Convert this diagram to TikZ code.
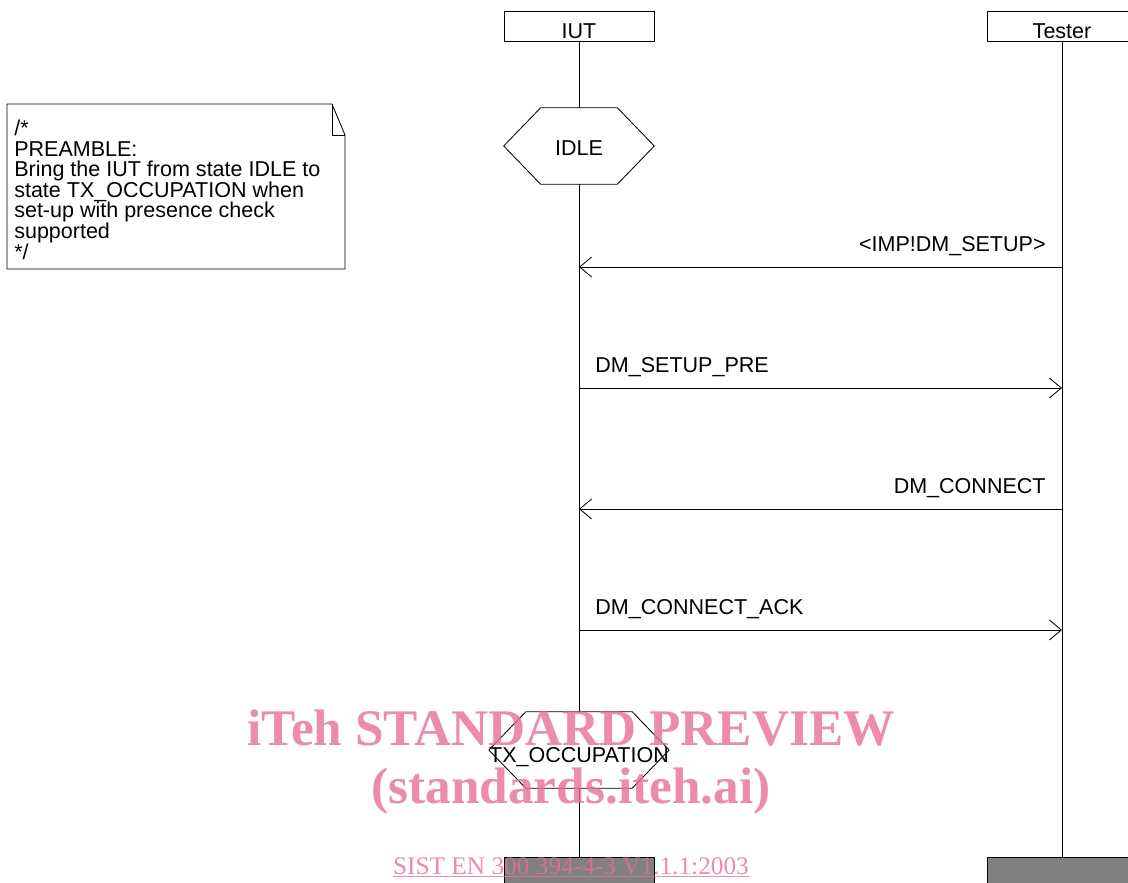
\documentclass[tikz,border=0pt]{standalone}
\usepackage{fontspec}
\setmainfont{Liberation Sans}
\newfontfamily\wmfont{Liberation Serif}
\usepackage{tikz}
\usetikzlibrary{arrows.meta,calc}

\definecolor{wmpink}{RGB}{232,110,150}
\definecolor{endgray}{RGB}{128,128,128}

\begin{document}
\begin{tikzpicture}[
    x=0.025cm, y=-0.025cm,
    every node/.append style={font=\fontsize{15.3}{14.6}\selectfont},
    instance/.style={draw, line width=0.6pt, inner sep=0pt, minimum width=3.75cm,
      text height=0.6875cm, text depth=0.0625cm, anchor=base},
    instend/.style={draw, line width=0.6pt, fill=endgray, minimum width=3.75cm,
      minimum height=1.5cm, anchor=north, inner sep=0pt},
    statebox/.style={minimum width=3.75cm, minimum height=1.9cm, inner sep=0pt,
      text height=0.48cm, text depth=0pt},
    lifeline/.style={line width=0.6pt},
    msg/.style={line width=0.6pt, -{Straight Barb[length=3mm, width=5mm, line width=0.6pt]}},
    msglabel/.style={inner sep=0pt},
    watermark/.style={text=wmpink, opacity=0.8, inner sep=0pt, anchor=base},
  ]
  \useasboundingbox (0,0) rectangle (1128,882);
  \clip (0,0) rectangle (1128,882);

  % Instances
  \node[instance] (iut) at (579,38.5) {IUT};
  \node[instance] (tester) at (1062,38.5) {Tester};
  \node[instend] (iutend) at (579,857) {};
  \node[instend] (testerend) at (1062,857) {};

  % States
  \node[statebox] (idle) at (579,146) {IDLE};
  \node[statebox, text height=0.62cm] (txocc) at (579,750) {TX\_OCCUPATION};
  \foreach \s in {idle,txocc}
    \draw[line width=0.6pt] (\s.west) -- ($(\s.north west)+(37,0)$) -- ($(\s.north east)+(-37,0)$)
      -- (\s.east) -- ($(\s.south east)+(-37,0)$) -- ($(\s.south west)+(37,0)$) -- cycle;

  % Lifelines
  \draw[lifeline] (iut.south) -- (idle.north);
  \draw[lifeline] (idle.south) -- (txocc.north);
  \draw[lifeline] (txocc.south) -- (iutend.north);
  \draw[lifeline] (tester.south) -- (testerend.north);

  % Comment
  \draw[line width=0.6pt] (7,104) -- (332,104) -- (345,135) -- (345,269) -- (7,269) -- cycle;
  \draw[line width=0.6pt] (332,104) -- (332,135) -- (345,135);
  \node[anchor=north west, align=left, inner sep=0pt] (note) at (14,120)
    {/*\\PREAMBLE:\\Bring the IUT from state IDLE to\\state TX\_OCCUPATION when\\set-up with presence check\\supported\\*/};

  % Messages
  \coordinate (i1) at (579,267); \coordinate (t1) at (1062,267);
  \coordinate (i2) at (579,388); \coordinate (t2) at (1062,388);
  \coordinate (i3) at (579,509); \coordinate (t3) at (1062,509);
  \coordinate (i4) at (579,630); \coordinate (t4) at (1062,630);
  \draw[msg] (t1) -- (i1) node[msglabel, at start, anchor=base east, xshift=-0.4cm, yshift=0.4cm] {<IMP!DM\_SETUP>};
  \draw[msg] (i2) -- (t2) node[msglabel, at start, anchor=base west, xshift=0.4cm, yshift=0.4cm] {DM\_SETUP\_PRE};
  \draw[msg] (t3) -- (i3) node[msglabel, at start, anchor=base east, xshift=-0.4cm, yshift=0.4cm] {DM\_CONNECT};
  \draw[msg] (i4) -- (t4) node[msglabel, at start, anchor=base west, xshift=0.4cm, yshift=0.4cm] {DM\_CONNECT\_ACK};

  % Watermark
  \node[watermark, font=\wmfont\bfseries\fontsize{36.5}{40}\selectfont] (wm1) at (571,745) {iTeh STANDARD PREVIEW};
  \node[watermark, font=\wmfont\bfseries\fontsize{36.5}{40}\selectfont] (wm2) at (571,803) {(standards.iteh.ai)};
  \node[watermark, font=\wmfont\fontsize{18}{20}\selectfont] (wm3) at (571,874) {\underline{SIST EN 300 394-4-3 V1.1.1:2003}};
\end{tikzpicture}
\end{document}
